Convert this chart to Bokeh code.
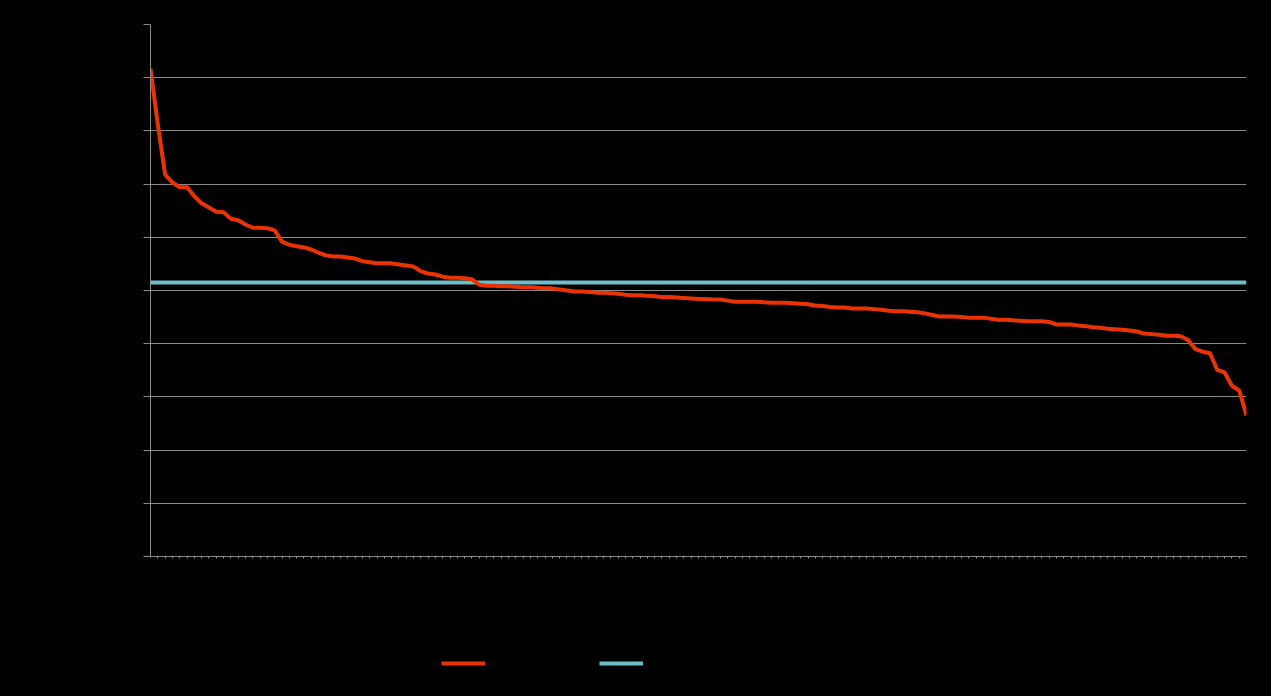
from bokeh.plotting import figure
from bokeh.models import Range1d, FixedTicker, Legend, LegendItem, CustomJSTickFormatter
from bokeh.embed import file_html
from bokeh.resources import INLINE

# values (sorted, descending)
values = [
    9.17, 8.12, 7.18, 7.03, 6.94, 6.94, 6.77, 6.64, 6.56, 6.48,
    6.47, 6.35, 6.32, 6.24, 6.18, 6.18, 6.17, 6.13, 5.92, 5.86,
    5.83, 5.81, 5.77, 5.71, 5.66, 5.64, 5.64, 5.62, 5.60, 5.55,
    5.53, 5.51, 5.51, 5.51, 5.49, 5.47, 5.45, 5.36, 5.32, 5.30,
    5.26, 5.24, 5.24, 5.23, 5.21, 5.11, 5.09, 5.09, 5.08, 5.08,
    5.07, 5.06, 5.06, 5.05, 5.04, 5.04, 5.02, 5.00, 4.98, 4.98,
    4.97, 4.96, 4.96, 4.95, 4.94, 4.92, 4.91, 4.91, 4.90, 4.89,
    4.88, 4.88, 4.87, 4.86, 4.85, 4.84, 4.84, 4.83, 4.83, 4.81,
    4.79, 4.79, 4.79, 4.79, 4.78, 4.77, 4.77, 4.77, 4.76, 4.75,
    4.74, 4.72, 4.71, 4.69, 4.68, 4.68, 4.66, 4.66, 4.66, 4.65,
    4.64, 4.62, 4.61, 4.61, 4.60, 4.59, 4.57, 4.54, 4.51, 4.51,
    4.51, 4.50, 4.49, 4.49, 4.49, 4.47, 4.45, 4.45, 4.44, 4.43,
    4.42, 4.42, 4.42, 4.41, 4.36, 4.36, 4.36, 4.34, 4.33, 4.31,
    4.30, 4.28, 4.27, 4.26, 4.25, 4.23, 4.19, 4.18, 4.17, 4.15,
    4.15, 4.14, 4.07, 3.90, 3.85, 3.82, 3.51, 3.46, 3.21, 3.12,
    2.65,
]
average = 5.15
categories = list(range(len(values)))
y_ticks = list(range(0, 11))
y_min, y_max = 0, 10

RED = "#EA3300"
BLUE = "#6BBFCB"
GRID = "#8A8A8A"

# frame extends below the value axis so that the legend can sit inside it
PX_PER_UNIT = 53.2
EXTRA_PX = 130
p = figure(frame_width=1096, frame_height=532 + EXTRA_PX,
           output_backend="svg", toolbar_location=None,
           x_range=Range1d(0, len(values) - 1),
           y_range=Range1d(y_min - EXTRA_PX / PX_PER_UNIT, y_max),
           min_border_left=150, min_border_right=25, min_border_top=24,
           min_border_bottom=10)
p.background_fill_color = "#000000"
p.border_fill_color = "#000000"
p.outline_line_color = None

p.xgrid.visible = False
p.ygrid.ticker = FixedTicker(ticks=y_ticks)
p.ygrid.grid_line_color = GRID
p.ygrid.grid_line_width = 1

empty = CustomJSTickFormatter(code="return ''")

p.yaxis.ticker = FixedTicker(ticks=y_ticks)
p.yaxis.bounds = (y_min, y_max)
p.yaxis.formatter = empty
p.yaxis.major_label_text_font_size = "0px"
p.yaxis.major_label_standoff = 0
p.yaxis.major_tick_out = 7
p.yaxis.major_tick_in = 0
p.yaxis.minor_tick_line_color = None
p.yaxis.axis_line_color = GRID
p.yaxis.major_tick_line_color = GRID

p.xaxis.ticker = FixedTicker(ticks=categories)
p.xaxis.fixed_location = y_min
p.xaxis.formatter = empty
p.xaxis.major_label_text_font_size = "0px"
p.xaxis.major_label_standoff = 0
p.xaxis.major_tick_out = 2
p.xaxis.major_tick_in = 0
p.xaxis.minor_tick_line_color = None
p.xaxis.axis_line_color = GRID
p.xaxis.major_tick_line_color = GRID

r_avg = p.line(categories, [average] * len(categories), line_color=BLUE, line_width=4)
r_val = p.line(categories, values, line_color=RED, line_width=4, line_join="round")

legend = Legend(
    items=[LegendItem(label="Value", renderers=[r_val]),
           LegendItem(label="Average", renderers=[r_avg])],
    location=(291, 13), orientation="horizontal",
    glyph_width=44, glyph_height=20, label_width=109, label_height=20,
    label_standoff=5, spacing=0, padding=0, margin=0,
    border_line_color=None, background_fill_alpha=0,
    label_text_color="#000000", label_text_font_size="13px",
)
p.add_layout(legend)

html = file_html(p, INLINE)
html = html.replace("<head>", "<head><style>html, body {background:#000000;}</style>", 1)
open("out.html", "w").write(html)
